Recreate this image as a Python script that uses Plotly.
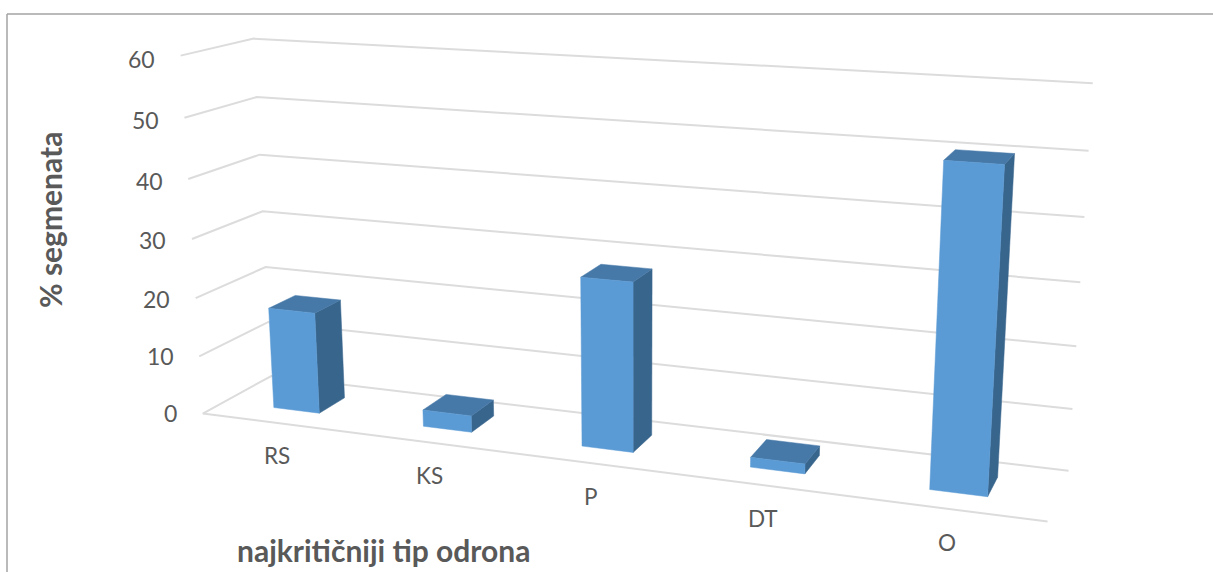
import numpy as np
import plotly.graph_objects as go

categories = ["RS", "KS", "P", "DT", "O"]
values = [17.4, 2.8, 27.8, 1.6, 50.1]
value_ticks = [0, 10, 20, 30, 40, 50, 60]
y_title = "% segmenata"
x_title = "najkritičniji tip odrona"

# Camera of the chart: maps (category fraction, depth fraction, value) to the picture plane
CAMERA = np.array([
    [0.6945518154645934, 0.08561261618050639, -0.030986535951238323, 0.20278390736220397],
    [0.03325614935799565, -0.013711466065858404, -0.36063931183201764, 0.41354472073377574],
    [-0.14341410105748664, 0.06328867606390448, -0.04872908585876839, 1.0],
])
BAR_WIDTH, BAR_SHIFT, DEPTH_FRONT, DEPTH_BACK = 0.062, -0.001, 0.31, 0.705
FRONT, TOP, SIDE = "#5B9BD5", "#4679A8", "#38658C"
GRID, FRAME, TEXT = "#DCDCDC", "#A3A3A3", "#595959"
FONT = "Lato"


def proj(u, v, h):
    w = CAMERA @ np.array([u, v, h / 60, 1.0])
    return 1000 * w[0] / w[2], 1000 * w[1] / w[2]


def poly(corners, color):
    pts = [proj(*c) for c in corners]
    pts.append(pts[0])
    return go.Scatter(x=[p[0] for p in pts], y=[p[1] for p in pts], mode="lines", fill="toself",
                      fillcolor=color, line=dict(color=color, width=0.5), hoverinfo="skip", showlegend=False)


def path(corners, color, width):
    pts = [proj(*c) for c in corners]
    return go.Scatter(x=[p[0] for p in pts], y=[p[1] for p in pts], mode="lines",
                      line=dict(color=color, width=width), hoverinfo="skip", showlegend=False)


fig = go.Figure()
for h in value_ticks:
    fig.add_trace(path([(0, 0, h), (0, 1, h), (1, 1, h)], GRID, 2))
fig.add_trace(path([(0, 0, 0), (1, 0, 0)], GRID, 2))

for i, val in enumerate(values):
    u = (i + 0.5) / len(values) + BAR_SHIFT
    a, b = u - BAR_WIDTH / 2, u + BAR_WIDTH / 2
    f, k = DEPTH_FRONT, DEPTH_BACK
    fig.add_trace(poly([(b, f, 0), (b, k, 0), (b, k, val), (b, f, val)], SIDE))
    fig.add_trace(poly([(a, f, val), (b, f, val), (b, k, val), (a, k, val)], TOP))
    fig.add_trace(poly([(a, f, 0), (b, f, 0), (b, f, val), (a, f, val)], FRONT))

ann = []
for h in value_ticks:
    x, y = proj(0, 0, h)
    ann.append(dict(x=x - 23.5, y=y - 1 + h / 15, text=str(h), xanchor="right", yanchor="middle",
                    showarrow=False, font=dict(family=FONT, size=23, color=TEXT)))
for i, c in enumerate(categories):
    u = (i + 0.5) / len(categories)
    x, y = proj(u, 0, 0)
    ann.append(dict(x=x + 1.6 - 6 * u, y=y + 33, text=c, xanchor="center", yanchor="middle",
                    showarrow=False, font=dict(family=FONT, size=22.5, color=TEXT)))
ann.append(dict(x=50, y=220, text=y_title, textangle=-90, xanchor="center", yanchor="middle", showarrow=False,
                font=dict(family=FONT, size=30, color=TEXT, weight="bold")))
ann.append(dict(x=383.5, y=550, text=x_title, xanchor="center", yanchor="middle", showarrow=False,
                font=dict(family=FONT, size=30, color=TEXT, weight="bold")))

fig.update_layout(
    width=1213, height=572, margin=dict(l=0, r=0, t=0, b=0),
    paper_bgcolor="white", plot_bgcolor="white", showlegend=False, annotations=ann,
    xaxis=dict(range=[0, 1213], visible=False),
    yaxis=dict(range=[572, 0], visible=False),
    shapes=[dict(type="line", x0=7, y0=14, x1=1213, y1=14, line=dict(color=FRAME, width=1.5)),
            dict(type="line", x0=7, y0=14, x1=7, y1=572, line=dict(color=FRAME, width=1.5))],
)
fig.write_html("out.html", post_script="document.body.style.margin='0';", config=dict(displayModeBar=False))
